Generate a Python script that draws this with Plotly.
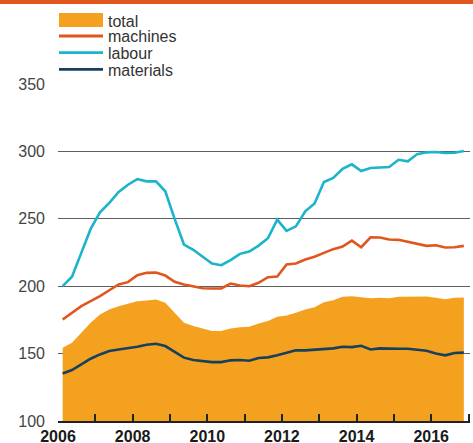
import plotly.graph_objects as go

years = list(range(2006, 2017))
quarter_x = [y + (q + 0.5) / 4 for y in years for q in range(4)]

total = [154.4, 158.1, 165.5, 172.9,
         179.0, 182.7, 185.2, 187.0,
         188.9, 189.4, 190.1, 187.7,
         180.3, 172.9, 170.4, 168.6,
         166.7, 166.7, 168.7, 169.6,
         169.9, 172.4, 174.1, 177.3,
         178.3, 180.3, 182.7, 184.4,
         188.1, 189.6, 192.1, 192.6,
         192.1, 191.1, 191.4, 191.1,
         192.1, 192.1, 192.6, 192.3,
         191.4, 190.4, 191.4, 191.6]

machines = [175.3, 180.2, 185.2, 188.9,
            192.6, 197.0, 201.3, 203.0,
            208.1, 209.9, 210.1, 207.9,
            203.3, 201.3, 200.0, 198.5,
            198.3, 198.3, 202.0, 200.5,
            200.0, 202.5, 206.7, 207.2,
            216.1, 216.8, 219.8, 221.8,
            224.7, 227.5, 229.4, 233.8,
            228.9, 236.3, 236.1, 234.6,
            234.4, 232.9, 230.9, 229.9,
            230.4, 228.7, 228.9, 229.9]

labour = [200.0, 207.0, 224.7, 242.5,
          254.8, 261.8, 269.9, 275.3,
          279.5, 277.8, 277.8, 270.4,
          249.9, 230.9, 227.0, 222.0,
          216.8, 215.6, 219.3, 224.0,
          225.7, 230.1, 235.6, 249.4,
          241.0, 244.4, 255.6, 261.3,
          277.3, 280.3, 287.0, 290.4,
          285.5, 287.7, 288.1, 288.4,
          293.8, 292.6, 298.0, 299.3,
          299.5, 298.8, 299.0, 300.3]

materials = [135.3, 137.8, 142.0, 146.2,
             149.4, 151.9, 153.1, 153.9,
             155.1, 156.6, 157.3, 155.6,
             151.1, 147.0, 145.2, 144.3,
             143.7, 143.7, 145.0, 145.2,
             144.7, 146.7, 147.2, 148.7,
             150.7, 152.4, 152.4, 152.9,
             152.9, 153.9, 155.1, 154.8,
             155.8, 153.1, 153.9, 153.6,
             153.6, 153.6, 152.9, 152.1,
             150.1, 148.7, 150.4, 150.7]

x_tickvals = list(range(2006, 2018))
x_ticktext = [str(y) if y % 2 == 0 and y < 2017 else "" for y in x_tickvals]
y_tickvals = [100, 150, 200, 250, 300, 350]

series_names = ["total", "machines", "labour", "materials"]
colors = {"total": "#F4A11F", "machines": "#E0561E",
          "labour": "#1BB4CB", "materials": "#17405C"}

FONT = "Liberation Sans, Arial, Helvetica, sans-serif"
W, H = 473, 443
L, R_EDGE = 58, 470
TOP, BOTTOM = 84, 421

fig = go.Figure()
fig.add_trace(go.Scatter(x=quarter_x, y=total, mode="lines", fill="tozeroy",
                         fillcolor=colors["total"], line=dict(width=0, color=colors["total"]),
                         name="total", hoverinfo="x+y"))
for nm, vals in [("machines", machines), ("labour", labour), ("materials", materials)]:
    fig.add_trace(go.Scatter(x=quarter_x, y=vals, mode="lines", name=nm,
                             line=dict(color=colors[nm], width=2.6)))

pw = R_EDGE - L
ph = BOTTOM - TOP


def px_x(p):
    return (p - L) / pw


def px_y(p):
    return (BOTTOM - p) / ph


shapes = []
annotations = []
# top accent bar
shapes.append(dict(type="rect", xref="paper", yref="paper",
                   x0=px_x(0), x1=px_x(W), y0=px_y(4), y1=px_y(0),
                   fillcolor="#E0561E", line=dict(width=0)))
# manual legend
legend_rows = [20.0, 36.0, 52.7, 69.3]
for nm, yy in zip(series_names, legend_rows):
    if nm == "total":
        shapes.append(dict(type="rect", xref="paper", yref="paper",
                           x0=px_x(59), x1=px_x(103), y0=px_y(27), y1=px_y(13),
                           fillcolor=colors[nm], line=dict(width=0)))
    else:
        shapes.append(dict(type="line", xref="paper", yref="paper",
                           x0=px_x(59), x1=px_x(103), y0=px_y(yy), y1=px_y(yy),
                           line=dict(color=colors[nm], width=2.8)))
    annotations.append(dict(xref="paper", yref="paper", x=px_x(107), y=px_y(yy + 1),
                            xanchor="left", yanchor="middle", showarrow=False,
                            text=nm, borderpad=0,
                            font=dict(family=FONT, size=16, color="#333333")))

fig.update_layout(
    width=W, height=H,
    margin=dict(l=L, r=W - R_EDGE, t=TOP, b=H - BOTTOM, pad=0, autoexpand=False),
    paper_bgcolor="white", plot_bgcolor="white",
    showlegend=False,
    shapes=shapes, annotations=annotations,
    font=dict(family=FONT),
    xaxis=dict(range=[2006, 2017.04], tickvals=x_tickvals, ticktext=x_ticktext,
               automargin=False,
               showgrid=False, zeroline=False, showline=True, linecolor="#222222",
               linewidth=1.5, ticks="inside", ticklen=7, tickwidth=1.5, tickcolor="#222222",
               tickfont=dict(family=FONT, size=16, color="#1a1a1a", weight="bold"),
               fixedrange=True),
    yaxis=dict(range=[100, 350], tickvals=y_tickvals, showgrid=True,
               automargin=False,
               gridcolor="#5e5e5e", gridwidth=1.4, zeroline=False, showline=False,
               ticks="", ticklabelstandoff=12,
               tickfont=dict(family=FONT, size=16, color="#444444"),
               fixedrange=True),
)

fig.write_html("out.html", config={"displayModeBar": False},
               post_script="document.body.style.margin='0';document.body.style.padding='0';")
